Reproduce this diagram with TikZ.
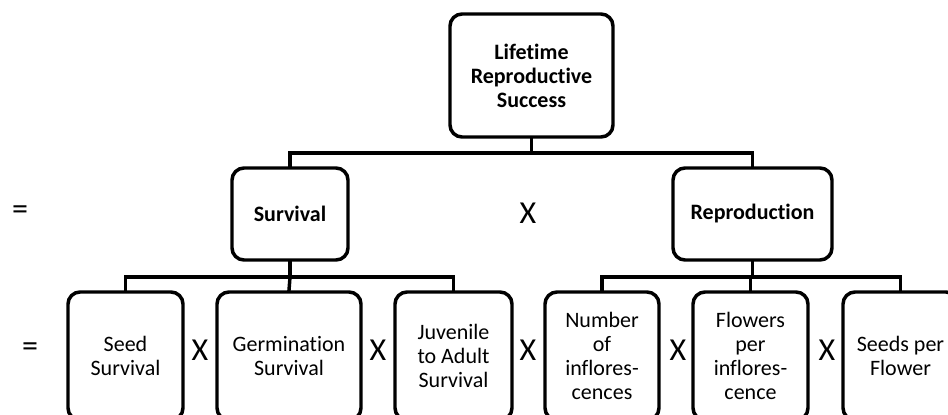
\documentclass[tikz,border=0pt]{standalone}
\usepackage{fontspec}
\setmainfont[Ligatures=NoCommon]{Carlito}
\usepackage{tikz}
\usetikzlibrary{positioning, calc}

\begin{document}
\begin{tikzpicture}[
          x=0.75pt, y=-0.75pt,
          rbox/.style={rectangle, rounded corners=9pt, draw=black,
                       line width=2.6pt, inner sep=0pt, align=center,
                       font=\fontsize{16.5}{18}\selectfont},
          hbox/.style={rbox, font=\fontsize{16.5}{18}\selectfont\bfseries},
          opsign/.style={inner sep=0pt, font=\fontsize{24}{26}\selectfont},
          link/.style={line width=2.6pt, line cap=rect}
        ]
        \useasboundingbox (0,0) rectangle (948,414);
        \clip (0,0) rectangle (948,414);

        % Top level
        \node[hbox, minimum width=122.25pt, minimum height=92.25pt]
              (lrs) at (531.5, 75.5) {Lifetime\\Reproductive\\Success};

        % Second level
        \node[hbox, minimum width=87pt, minimum height=69pt]
              (surv) at (290, 214) {Survival};
        \node[hbox, minimum width=119.25pt, minimum height=69pt]
              (repr) at (752.5, 214) {Reproduction};
        \node[opsign] (eqa) at (20, 213) {=};
        \node[opsign] (xa) at (528, 213) {X};

        % Third level
        \node[rbox, minimum width=86.25pt, minimum height=96pt]
              (seed) at (125.5, 356) {Seed\\Survival};
        \node[rbox, minimum width=108pt, minimum height=96pt]
              (germ) at (289, 356) {Germination\\Survival};
        \node[rbox, minimum width=87.75pt, minimum height=96pt]
              (juv) at (453.5, 356) {Juvenile\\to Adult\\Survival};
        \node[rbox, minimum width=85.5pt, minimum height=96pt]
              (ninf) at (602, 356) {Number\\of\\inflores-\\cences};
        \node[rbox, minimum width=86.25pt, minimum height=96pt]
              (fpi) at (750.5, 356) {Flowers\\per\\inflores-\\cence};
        \node[rbox, minimum width=86.25pt, minimum height=96pt]
              (spf) at (900.5, 356) {Seeds per\\Flower};
        \node[opsign] (eqb) at (30, 350) {=};
        \node[opsign] (xb) at (200, 350) {X};
        \node[opsign] (xc) at (378, 350) {X};
        \node[opsign] (xd) at (528, 350) {X};
        \node[opsign] (xe) at (678, 350) {X};
        \node[opsign] (xf) at (827, 350) {X};

        % Connectors
        \coordinate (top) at (531.5, 153);
        \draw[link] (lrs.south) -- (top) -| (surv.north);
        \draw[link] (top) -| (repr.north);

        \coordinate (lbar) at (290, 277);
        \draw[link] (surv.south) -- (lbar) -| (seed.north);
        \draw[link] (lbar) -| (juv.north);
        \draw[link] (lbar) -- (germ.north);

        \coordinate (rbar) at (752.5, 277);
        \draw[link] (repr.south) -- (rbar) -| (ninf.north);
        \draw[link] (rbar) -| (spf.north);
        \draw[link] (rbar) -| (fpi.north);
      \end{tikzpicture}
\end{document}
